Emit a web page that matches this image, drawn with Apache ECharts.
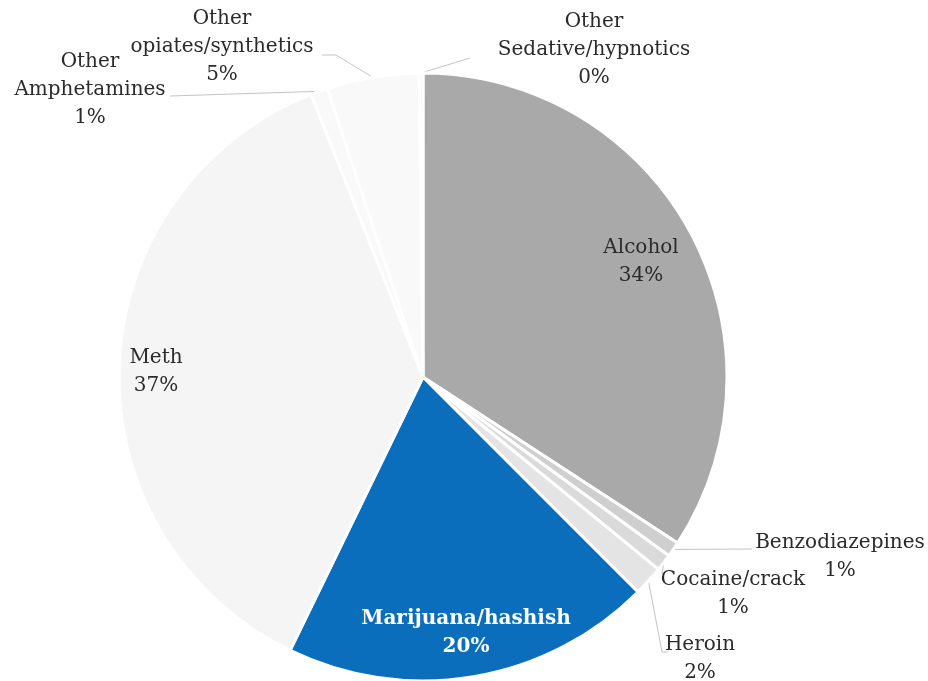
<!DOCTYPE html>
<html>
<head>
<meta charset="utf-8">
<script src="https://cdn.jsdelivr.net/npm/echarts@6/dist/echarts.min.js"></script>
<style>
  html, body { margin: 0; padding: 0; background: #ffffff; }
  #chart { width: 928px; height: 681px; }
</style>
</head>
<body>
<div id="chart"></div>
<script>
// Substance categories, clockwise from 12 o'clock
const categories = [
  'Alcohol',
  'Benzodiazepines',
  'Cocaine/crack',
  'Heroin',
  'Marijuana/hashish',
  'Meth',
  'Other\nAmphetamines',
  'Other\nopiates/synthetics',
  'Other\nSedative/hypnotics'
];
// Share of admissions, percent
const shares = [34.2, 0.8, 0.9, 1.6, 19.7, 36.8, 0.9, 4.9, 0.2];

const sliceColors = ['#a9a9a9', '#cfcfcf', '#dadada', '#e4e4e4', '#0a6ebd', '#f5f5f5', '#f9f9f9', '#f9f9f9', '#efefef'];
const insideLabels = ['Alcohol', 'Meth', 'Marijuana/hashish'];

const CENTER = [423, 377];
const RADIUS = 304;

// Where each label block is centred
const labelSpots = {
  'Alcohol': [641, 262],
  'Benzodiazepines': [840, 557],
  'Cocaine/crack': [733, 594],
  'Heroin': [700, 659],
  'Marijuana/hashish': [466, 633],
  'Meth': [156, 372],
  'Other\nAmphetamines': [90, 90],
  'Other\nopiates/synthetics': [222, 47],
  'Other\nSedative/hypnotics': [594, 50]
};

// Leader line tails running from the slice rim towards each outside label
const leaderTails = {
  'Benzodiazepines': [[752, 549]],
  'Cocaine/crack': [[662, 574]],
  'Heroin': [[662, 652], [668, 652]],
  'Other\nAmphetamines': [[170, 96]],
  'Other\nopiates/synthetics': [[336, 55], [322, 55]],
  'Other\nSedative/hypnotics': [[470, 58]]
};

// Point on the rim at the middle of a slice
function rimPoint(index) {
  const total = shares.reduce((a, b) => a + b, 0);
  let before = 0;
  for (let i = 0; i < index; i++) before += shares[i];
  const theta = (before + shares[index] / 2) / total * 2 * Math.PI;
  return [CENTER[0] + RADIUS * Math.sin(theta), CENTER[1] - RADIUS * Math.cos(theta)];
}

const chart = echarts.init(document.getElementById('chart'), null, { renderer: 'canvas' });

const pieData = categories.map((name, i) => {
  const inside = insideLabels.includes(name);
  const item = {
    name: name,
    value: shares[i],
    itemStyle: { color: sliceColors[i] },
    labelLine: { show: !inside }
  };
  if (name === 'Marijuana/hashish') {
    item.label = { color: '#ffffff', fontWeight: 'bold' };
  }
  return item;
});

chart.setOption({
  backgroundColor: '#ffffff',
  animation: false,
  series: [{
    type: 'pie',
    center: CENTER,
    radius: RADIUS,
    startAngle: 90,
    clockwise: true,
    avoidLabelOverlap: false,
    itemStyle: { borderColor: '#ffffff', borderWidth: 3 },
    label: {
      show: true,
      position: 'outside',
      fontFamily: 'DejaVu Serif',
      fontSize: 20,
      lineHeight: 28,
      color: '#2b2b2b',
      align: 'center',
      formatter: p => p.name + '\n' + Math.round(p.value) + '%'
    },
    labelLine: {
      show: true,
      lineStyle: { color: '#c4c4c4', width: 1 }
    },
    labelLayout: function (params) {
      const name = categories[params.dataIndex];
      const spot = labelSpots[name];
      const layout = {
        x: spot[0],
        y: spot[1],
        align: 'center',
        verticalAlign: 'middle'
      };
      if (leaderTails[name]) {
        layout.labelLinePoints = [rimPoint(params.dataIndex)].concat(leaderTails[name]);
      }
      return layout;
    },
    data: pieData
  }]
});
</script>
</body>
</html>
